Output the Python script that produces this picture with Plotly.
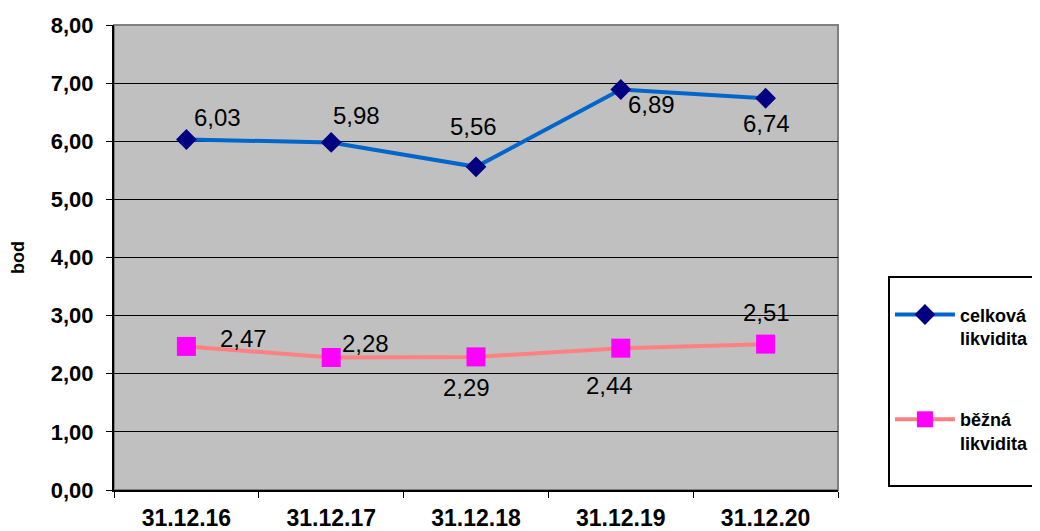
import plotly.graph_objects as go

categories = ["31.12.16", "31.12.17", "31.12.18", "31.12.19", "31.12.20"]
celkova = [6.03, 5.98, 5.56, 6.89, 6.74]
bezna = [2.47, 2.28, 2.29, 2.44, 2.51]
y_ticks = [0, 1, 2, 3, 4, 5, 6, 7, 8]

# label offsets in pixels (dx right, dy up) relative to each point
celkova_dx = [31, 25, -3, 31, 1]
celkova_dy = [22, 27, 40, -15, -25]
bezna_dx = [57, 34, -10, -11, 1]
bezna_dy = [8, 14, -31, -37, 32]

lbl_font = dict(family="Liberation Sans, Arial", size=24, color="black")

fig = go.Figure()
fig.add_trace(go.Scatter(
    x=categories, y=celkova, name="celková<br>likvidita",
    mode="lines+markers",
    line=dict(color="#0066CC", width=4),
    marker=dict(symbol="diamond", size=16, color="#000080"),
    legendgroup="a",
))
fig.add_trace(go.Scatter(
    x=categories, y=bezna, name="běžná<br>likvidita<br> ",
    mode="lines+markers",
    line=dict(color="#FF8080", width=4),
    marker=dict(symbol="square", size=19, color="#FF00FF"),
    legendgroup="b",
))

for vals, dxs, dys in ((celkova, celkova_dx, celkova_dy), (bezna, bezna_dx, bezna_dy)):
    for c, v, dx, dy in zip(categories, vals, dxs, dys):
        fig.add_annotation(x=c, y=v, text=f"{v:.2f}".replace(".", ","),
                           showarrow=False, xshift=dx, yshift=dy,
                           font=lbl_font, xanchor="center", yanchor="middle")

fig.update_layout(
    width=1040, height=531,
    margin=dict(l=106, r=208, t=17, b=49),
    paper_bgcolor="white",
    plot_bgcolor="#C0C0C0",
    separators=", ",
    font=dict(family="Liberation Sans, Arial", color="black"),
    showlegend=True,
    legend=dict(
        x=1.069, y=0.46, xanchor="left", yanchor="top",
        bordercolor="black", borderwidth=2, bgcolor="white",
        font=dict(size=18, family="Liberation Sans, Arial", weight="bold"),
        tracegroupgap=55, itemwidth=60, valign="top",
        title=dict(text=" ", font=dict(size=14)),
    ),
    xaxis=dict(
        type="category", range=[-0.5, 4.5], automargin=False,
        showline=True, linecolor="black", linewidth=2,
        tickson="boundaries", ticks="outside", ticklen=6, tickcolor="black",
        tickfont=dict(size=23, family="Liberation Sans, Arial", weight="bold"),
        ticklabelstandoff=6,
        showgrid=False, mirror=False,
    ),
    yaxis=dict(
        range=[0, 8], tickvals=y_ticks, tickformat=".2f", automargin=False,
        showline=True, linecolor="black", linewidth=2,
        ticks="outside", ticklen=6, tickcolor="black",
        tickfont=dict(size=22, family="Liberation Sans, Arial", weight="bold"),
        ticklabelstandoff=8,
        showgrid=True, gridcolor="black", gridwidth=1,
        zeroline=False,
        title=dict(text="bod", font=dict(size=18, weight="bold"), standoff=22),
    ),
)
# gray top/right frame of plot area
fig.add_shape(type="rect", xref="paper", yref="paper", x0=0, y0=0, x1=1, y1=1,
              line=dict(color="#808080", width=2), layer="below")

fig.write_html("out.html")
